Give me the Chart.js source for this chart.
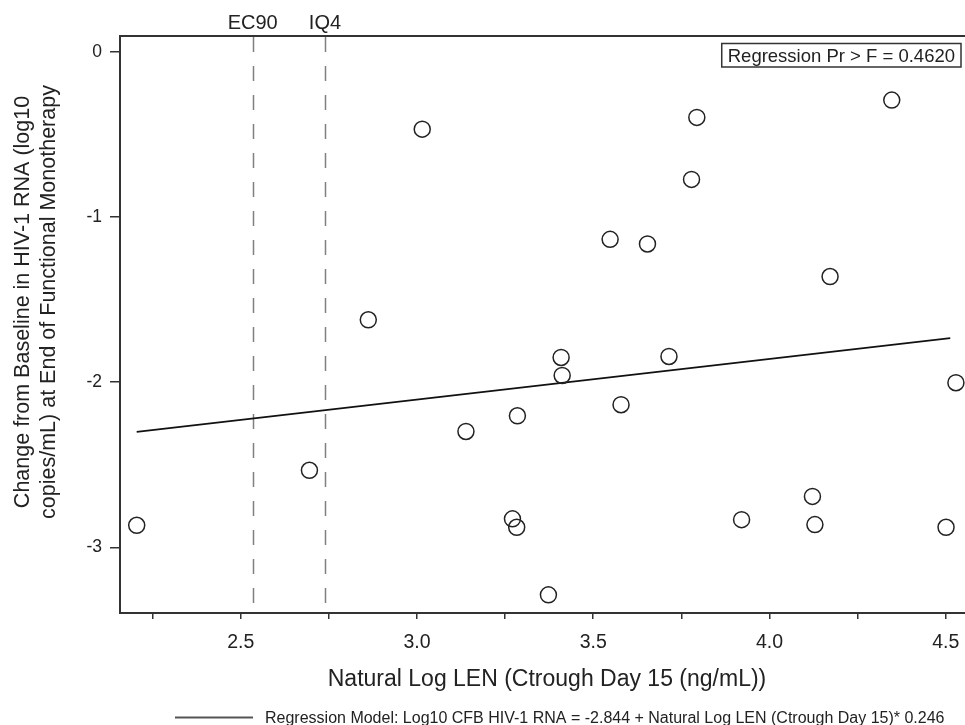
<!DOCTYPE html>
<html>
<head>
<meta charset="utf-8">
<script src="https://cdn.jsdelivr.net/npm/chart.js@4.4.1/dist/chart.umd.min.js"></script>
<style>
  html, body { margin: 0; padding: 0; background: #fff; }
  canvas { display: block; }
</style>
</head>
<body>
<canvas id="scatterChart" width="965" height="725"></canvas>
<script>
// Natural log LEN Ctrough (Day 15) vs change from baseline in log10 HIV-1 RNA
const lnCtrough = [2.205, 2.695, 2.862, 3.015, 3.139, 3.271, 3.283, 3.285, 3.373, 3.409, 3.412, 3.548,
                   3.579, 3.654, 3.715, 3.779, 3.794, 3.921, 4.122, 4.129, 4.172, 4.347, 4.501, 4.529];
const rnaChange = [-2.867, -2.534, -1.623, -0.469, -2.299, -2.828, -2.879, -2.204, -3.288, -1.851, -1.960, -1.136,
                   -2.137, -1.164, -1.845, -0.773, -0.398, -2.833, -2.692, -2.863, -1.361, -0.293, -2.879, -2.004];

// regression fit: y = intercept + slope * x, drawn over the fitted range
const regIntercept = -2.844;
const regSlope = 0.246;
const regRange = [2.205, 4.513];
const regPValue = '0.4620';

// reference concentrations
const refValues = [2.534, 2.739];
const refLabels = ['EC90', 'IQ4'];

const xTicks = [2.25, 2.5, 2.75, 3.0, 3.25, 3.5, 3.75, 4.0, 4.25, 4.5];
const xTickLabels = [2.5, 3.0, 3.5, 4.0, 4.5];
const yTicks = [0, -1, -2, -3];

const FONT = '"Liberation Sans", Arial, sans-serif';
const AXIS_COLOR = '#333';

const regPoints = regRange.map(x => ({ x: x, y: regIntercept + regSlope * x }));
const points = lnCtrough.map((x, i) => ({ x: x, y: rnaChange[i] }));

// draws the frame top, reference lines, inset box, titles and footnote legend
const decorations = {
    id: 'decorations',
    beforeDatasetsDraw(chart) {
        const { ctx, chartArea: a, scales: { x } } = chart;
        ctx.save();
        ctx.strokeStyle = '#808080';
        ctx.lineWidth = 1.5;
        ctx.setLineDash([15, 14]);
        refValues.forEach(v => {
            const px = Math.round(x.getPixelForValue(v)) + 0.5;
            ctx.beginPath();
            ctx.moveTo(px, a.top + 1);
            ctx.lineTo(px, a.bottom);
            ctx.stroke();
        });
        ctx.restore();
    },
    afterDraw(chart) {
        const { ctx, chartArea: a, scales: { x } } = chart;
        ctx.save();

        // top edge of the frame
        ctx.strokeStyle = AXIS_COLOR;
        ctx.lineWidth = 2;
        ctx.beginPath();
        ctx.moveTo(a.left, a.top);
        ctx.lineTo(a.right, a.top);
        ctx.stroke();

        // reference line labels
        ctx.fillStyle = '#222';
        ctx.font = '20px ' + FONT;
        ctx.textAlign = 'center';
        ctx.textBaseline = 'alphabetic';
        refValues.forEach((v, i) => {
            ctx.fillText(refLabels[i], x.getPixelForValue(v), 29);
        });

        // inset with the p-value
        const boxText = 'Regression Pr > F = ' + regPValue;
        ctx.font = '18.5px ' + FONT;
        const tw = ctx.measureText(boxText).width;
        const bx1 = a.right - 4, by0 = a.top + 7.5;
        const bx0 = bx1 - tw - 12, by1 = by0 + 23.5;
        ctx.strokeStyle = '#333';
        ctx.lineWidth = 1.5;
        ctx.strokeRect(bx0, by0, bx1 - bx0, by1 - by0);
        ctx.textAlign = 'left';
        ctx.fillText(boxText, bx0 + 6, by1 - 5.5);

        // axis titles
        ctx.font = '23px ' + FONT;
        ctx.textAlign = 'center';
        ctx.textBaseline = 'middle';
        ctx.fillText('Natural Log LEN (Ctrough Day 15 (ng/mL))', 547, 680);

        ctx.save();
        ctx.translate(0, 302);
        ctx.rotate(-Math.PI / 2);
        ctx.font = '21.5px ' + FONT;
        ctx.fillText('Change from Baseline in HIV-1 RNA (log10', 0, 23);
        ctx.fillText('copies/mL) at End of Functional Monotherapy', 0, 49);
        ctx.restore();

        // footnote legend for the regression line
        ctx.strokeStyle = '#555';
        ctx.lineWidth = 2;
        ctx.beginPath();
        ctx.moveTo(175, 717.5);
        ctx.lineTo(253, 717.5);
        ctx.stroke();
        ctx.font = '16px ' + FONT;
        ctx.textAlign = 'left';
        ctx.textBaseline = 'alphabetic';
        ctx.fillText('Regression Model: Log10 CFB HIV-1 RNA = ' + regIntercept.toFixed(3) +
            ' + Natural Log LEN (Ctrough Day 15)* ' + regSlope.toFixed(3), 265, 723);

        ctx.restore();
    }
};

const ctx = document.getElementById('scatterChart').getContext('2d');
const chart = new Chart(ctx, {
    type: 'scatter',
    data: {
        datasets: [
            {
                label: 'Observed',
                data: points,
                pointStyle: 'circle',
                pointRadius: 8,
                pointBorderWidth: 1.5,
                pointBorderColor: '#222',
                pointBackgroundColor: 'rgba(0,0,0,0)'
            },
            {
                type: 'line',
                label: 'Regression',
                data: regPoints,
                borderColor: '#111',
                borderWidth: 1.6,
                pointRadius: 0,
                fill: false
            }
        ]
    },
    options: {
        responsive: false,
        animation: false,
        layout: { autoPadding: false, padding: { top: 36, right: 0, left: 0, bottom: 0 } },
        plugins: {
            legend: { display: false },
            tooltip: { enabled: false }
        },
        scales: {
            x: {
                type: 'linear',
                min: 2.1576,
                max: 4.5548,
                afterBuildTicks: scale => { scale.ticks = xTicks.map(v => ({ value: v })); },
                afterFit: scale => {
                    scale.height = 112;
                    scale.paddingLeft = 0;
                    scale.paddingRight = 0;
                },
                ticks: {
                    autoSkip: false,
                    maxRotation: 0,
                    padding: 12,
                    color: '#222',
                    font: { family: FONT, size: 19.5 },
                    callback: v => xTickLabels.some(t => Math.abs(t - v) < 1e-6) ? v.toFixed(1) : ''
                },
                grid: { drawOnChartArea: false, tickLength: 6, color: AXIS_COLOR, lineWidth: 1.5 },
                border: { display: true, color: AXIS_COLOR, width: 2 }
            },
            y: {
                type: 'linear',
                min: -3.398,
                max: 0.095,
                afterBuildTicks: scale => { scale.ticks = yTicks.map(v => ({ value: v })); },
                afterFit: scale => {
                    scale.width = 120;
                    scale.paddingTop = 0;
                    scale.paddingBottom = 0;
                },
                ticks: {
                    autoSkip: false,
                    padding: 8,
                    color: '#222',
                    font: { family: FONT, size: 17.5 },
                    callback: v => String(v)
                },
                grid: { drawOnChartArea: false, tickLength: 10, color: AXIS_COLOR, lineWidth: 1.5 },
                border: { display: true, color: AXIS_COLOR, width: 2 }
            }
        }
    },
    plugins: [decorations]
});
</script>
</body>
</html>
